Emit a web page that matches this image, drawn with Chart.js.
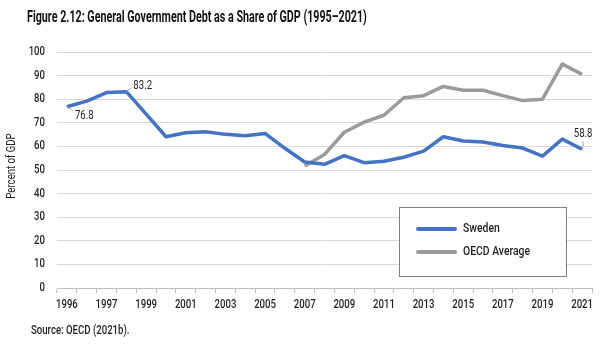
<!DOCTYPE html>
<html>
<head>
<meta charset="utf-8">
<script src="https://cdn.jsdelivr.net/npm/chart.js@4/dist/chart.umd.min.js"></script>
<style>
  html, body { margin: 0; padding: 0; background: #fff; }
  #wrap { position: relative; width: 605px; height: 344px; }
</style>
</head>
<body>
<div id="wrap"><canvas id="c" width="605" height="344"></canvas></div>
<script>
// Years on the category axis (1995–2021)
const years = ['1995','1996','1997','1998','1999','2000','2001','2002','2003','2004','2005','2006','2007','2008',
               '2009','2010','2011','2012','2013','2014','2015','2016','2017','2018','2019','2020','2021'];

// Labels printed under every second category
const tickLabels = ['1996','1997','1999','2001','2003','2005','2007','2009','2011','2013','2015','2017','2019','2021'];

// General government debt, percent of GDP
const sweden = [76.8, 79.2, 82.8, 83.2, 73.7, 64.1, 65.8, 66.2, 65.1, 64.5, 65.5, 59.2, 53.4, 52.4,
                56.1, 53.1, 53.7, 55.4, 58.0, 64.1, 62.3, 61.9, 60.4, 59.3, 55.9, 63.1, 58.8];
const oecd = [null, null, null, null, null, null, null, null, null, null, null, null, 51.7, 56.6,
              66.0, 70.3, 73.2, 80.6, 81.5, 85.4, 83.8, 83.8, 81.5, 79.4, 80.0, 94.9, 90.5];

// Values annotated on the Sweden line: [index, dx, dy, align]
const swedenCallouts = [[0, 8, 9, 'left'], [3, 7, -6, 'left'], [26, 1, -15, 'center']];

const yTicks = [0, 10, 20, 30, 40, 50, 60, 70, 80, 90, 100];

const FONT = 'Roboto, "Liberation Sans", Arial, sans-serif';
const TEXT = '#1f1f1f';
const BLUE = '#4472C4';
const GREY = '#9b9b9b';
const NARROW = 0.8;

// Draws text squeezed horizontally to mimic a condensed typeface
function narrowText(ctx, text, x, y, align, font, ratio) {
  ctx.save();
  ctx.font = font;
  ctx.textBaseline = 'middle';
  ctx.textAlign = align;
  ctx.translate(x, y);
  ctx.scale(ratio, 1);
  ctx.fillText(text, 0, 0);
  ctx.restore();
}

const decorPlugin = {
  id: 'decor',
  afterDraw(chart) {
    const ctx = chart.ctx;
    const area = chart.chartArea;
    const xs = chart.scales.x, ys = chart.scales.y;
    ctx.save();

    // Heading and source line
    ctx.fillStyle = '#111';
    narrowText(ctx, 'Figure 2.12: General Government Debt as a Share of GDP (1995–2021)', 27, 18, 'left', 'bold 16px ' + FONT, 0.67);
    ctx.fillStyle = TEXT;
    narrowText(ctx, 'Source: OECD (2021b).', 31, 331, 'left', '500 12px ' + FONT, NARROW);

    // Axis tick labels
    tickLabels.forEach((t, k) => {
      narrowText(ctx, t, xs.getPixelForTick(k * 2), 305, 'center', '500 12px ' + FONT, NARROW);
    });
    yTicks.forEach(v => {
      narrowText(ctx, String(v), 45, ys.getPixelForValue(v), 'right', '500 12px ' + FONT, NARROW);
    });

    // Vertical axis title
    ctx.save();
    ctx.translate(12, (area.top + area.bottom) / 2 - 4);
    ctx.rotate(-Math.PI / 2);
    narrowText(ctx, 'Percent of GDP', 0, 0, 'center', '12px ' + FONT, NARROW);
    ctx.restore();

    // Value callouts with short leader lines
    const meta = chart.getDatasetMeta(0);
    swedenCallouts.forEach(([i, dx, dy, align]) => {
      const pt = meta.data[i];
      ctx.strokeStyle = '#a6a6a6';
      ctx.lineWidth = 1;
      ctx.beginPath();
      if (align === 'center') {
        ctx.moveTo(pt.x + 1, pt.y - 2);
        ctx.lineTo(pt.x + 1, pt.y - 8);
      } else {
        ctx.moveTo(pt.x, pt.y);
        ctx.lineTo(pt.x + dx - 2, pt.y + (dy > 0 ? dy - 5 : dy + 2));
      }
      ctx.stroke();
      ctx.fillStyle = TEXT;
      narrowText(ctx, sweden[i].toFixed(1), pt.x + dx, pt.y + dy, align, '12px ' + FONT, NARROW);
    });

    // Legend box inside the plot
    const box = { x: 399.5, y: 207.5, w: 167, h: 69 };
    ctx.fillStyle = '#fff';
    ctx.fillRect(box.x, box.y, box.w, box.h);
    ctx.strokeStyle = '#7f7f7f';
    ctx.lineWidth = 1;
    ctx.strokeRect(box.x, box.y, box.w, box.h);
    chart.data.datasets.forEach((ds, k) => {
      const y = 229 + k * 23;
      ctx.strokeStyle = ds.borderColor;
      ctx.lineWidth = 4;
      ctx.lineCap = 'round';
      ctx.beginPath();
      ctx.moveTo(418, y);
      ctx.lineTo(455, y);
      ctx.stroke();
      ctx.fillStyle = TEXT;
      narrowText(ctx, ds.label, 463, y, 'left', '500 13px ' + FONT, NARROW);
    });
    ctx.restore();
  }
};

new Chart(document.getElementById('c'), {
  type: 'line',
  data: {
    labels: years,
    datasets: [
      { label: 'Sweden', data: sweden, borderColor: BLUE, backgroundColor: BLUE,
        borderWidth: 3.5, pointRadius: 0, tension: 0, borderJoinStyle: 'round' },
      { label: 'OECD Average', data: oecd, borderColor: GREY, backgroundColor: GREY,
        borderWidth: 3.5, pointRadius: 0, tension: 0, borderJoinStyle: 'round' }
    ]
  },
  options: {
    responsive: false,
    animation: false,
    devicePixelRatio: 1,
    layout: { padding: { top: 52, right: 13, bottom: 28, left: 0 } },
    plugins: { legend: { display: false }, title: { display: false }, tooltip: { enabled: false } },
    scales: {
      x: {
        type: 'category',
        offset: true,
        grid: { display: true, drawOnChartArea: false, offset: true, tickLength: 5, color: '#bfbfbf' },
        border: { display: true, color: '#bfbfbf', width: 1 },
        ticks: { autoSkip: false, maxRotation: 0, minRotation: 0, color: 'rgba(0,0,0,0)', font: { family: FONT, size: 12 } },
        afterFit: s => { s.height = 28; }
      },
      y: {
        min: 0, max: 100,
        afterBuildTicks: s => { s.ticks = yTicks.map(v => ({ value: v })); },
        grid: { color: '#d9d9d9', drawTicks: false },
        border: { display: false },
        ticks: { display: false },
        afterFit: s => { s.width = 57; }
      }
    }
  },
  plugins: [decorPlugin]
});
</script>
</body>
</html>
